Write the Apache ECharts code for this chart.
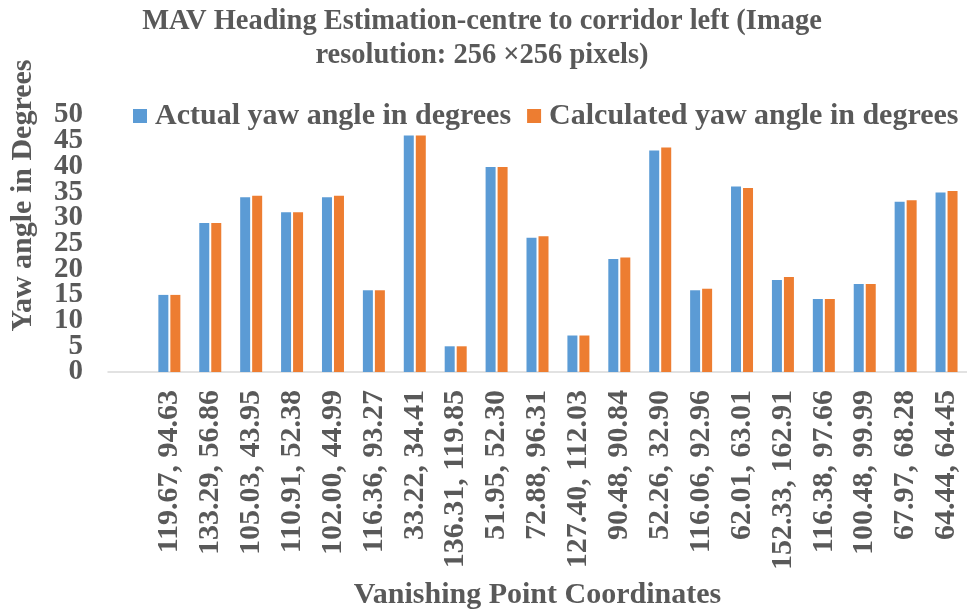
<!DOCTYPE html>
<html>
<head>
<meta charset="utf-8">
<script src="https://cdn.jsdelivr.net/npm/echarts@6/dist/echarts.min.js"></script>
<style>html,body{margin:0;padding:0;background:#fff}#c{width:967px;height:614px}</style>
</head>
<body>
<div id="c"></div>
<script>
const categories = ['119.67, 94.63','133.29, 56.86','105.03, 43.95','110.91, 52.38','102.00, 44.99','116.36, 93.27','33.22, 34.41','136.31, 119.85','51.95, 52.30','72.88, 96.31','127.40, 112.03','90.48, 90.84','52.26, 32.90','116.06, 92.96','62.01, 63.01','152.33, 162.91','116.38, 97.66','100.48, 99.99','67.97, 68.28','64.44, 64.45'];
const actualYaw = [15.0, 29.0, 34.0, 31.1, 34.0, 15.9, 46.0, 5.0, 39.9, 26.1, 7.1, 22.0, 43.1, 15.9, 36.1, 17.9, 14.2, 17.1, 33.1, 34.9];
const calculatedYaw = [15.0, 29.0, 34.3, 31.1, 34.3, 15.9, 46.0, 5.0, 39.9, 26.4, 7.1, 22.3, 43.7, 16.2, 35.8, 18.5, 14.2, 17.1, 33.4, 35.2];
const yTicks = {min: 0, max: 50, interval: 5};

const FONT = '"Liberation Serif", "Times New Roman", serif';
const TXT = '#595959';
const yLabelStyle = {margin: 25, fontFamily: FONT, fontWeight: 'bold', fontSize: 29, color: TXT};
const chart = echarts.init(document.getElementById('c'));
chart.setOption({
  animation: false,
  backgroundColor: '#fff',
  title: {
    text: 'MAV Heading Estimation-centre to corridor left (Image\nresolution: 256 \u00d7256 pixels)',
    left: 477, top: 0, textAlign: 'center',
    textStyle: {fontFamily: FONT, fontWeight: 'bold', fontSize: 28.5, lineHeight: 34, color: TXT}
  },
  legend: {
    left: 128, top: 96, width: 860, itemWidth: 14, itemHeight: 14, itemGap: 16,
    icon: 'rect',
    textStyle: {fontFamily: FONT, fontWeight: 'bold', fontSize: 30, color: TXT, padding: [0,0,0,3]}
  },
  grid: {left: 106, top: 115, width: 864, bottom: 242, containLabel: false},
  xAxis: {
    type: 'category',
    data: [''].concat(categories),
    axisLine: {lineStyle: {color: '#d9d9d9', width: 1.5}},
    axisTick: {show: false},
    axisLabel: {rotate: 90, interval: 0, margin: 18, fontFamily: FONT, fontWeight: 'bold', fontSize: 30, color: TXT},
    name: 'Vanishing Point Coordinates', nameLocation: 'middle', nameGap: 208,
    nameTextStyle: {fontFamily: FONT, fontWeight: 'bold', fontSize: 30, color: TXT}
  },
  yAxis: [{
    type: 'value', min: yTicks.min, max: yTicks.max, interval: yTicks.interval,
    position: 'left', offset: 0,
    splitLine: {show: false},
    axisLine: {show: false}, axisTick: {show: false},
    axisLabel: Object.assign({showMinLabel: true, showMaxLabel: true}, yLabelStyle),
    name: 'Yaw angle in Degrees', nameLocation: 'middle', nameGap: 70,
    nameTextStyle: {fontFamily: FONT, fontWeight: 'bold', fontSize: 30, color: TXT, padding: [0,0,0,96]}
  }, {
    type: 'value', min: yTicks.min, max: yTicks.max, interval: yTicks.interval,
    position: 'left', offset: 0,
    splitLine: {show: false},
    axisLine: {show: false}, axisTick: {show: false},
    axisLabel: Object.assign({showMinLabel: false, showMaxLabel: false,
      formatter: v => (v === yTicks.min + yTicks.interval || v === yTicks.max - yTicks.interval) ? String(v) : ''}, yLabelStyle)
  }],
  series: [
    {name: 'Actual yaw angle in degrees', type: 'bar', yAxisIndex: 0, data: [null].concat(actualYaw), barWidth: 10, barGap: '20%', itemStyle: {color: '#5B9BD5'}},
    {name: 'Calculated yaw angle in degrees', type: 'bar', yAxisIndex: 0, data: [null].concat(calculatedYaw), barWidth: 10, itemStyle: {color: '#ED7D31'}}
  ]
});
</script>
</body>
</html>
